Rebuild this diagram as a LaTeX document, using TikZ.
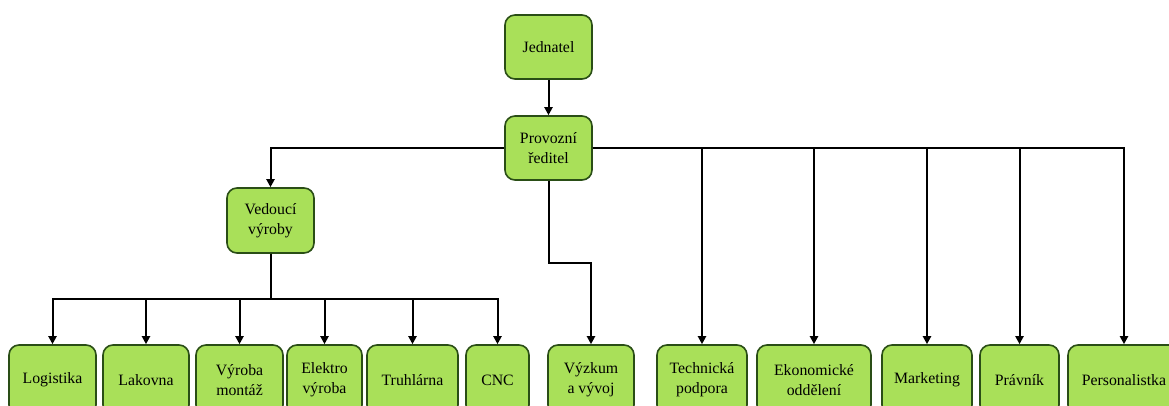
\documentclass[tikz,border=0pt]{standalone}
\usepackage{fontspec}
\setmainfont{Liberation Serif}
\usetikzlibrary{arrows.meta}
\definecolor{boxfill}{RGB}{169,224,89}
\definecolor{boxline}{RGB}{42,78,22}
\begin{document}
\begin{tikzpicture}[x=1pt,y=-1pt,
  unit/.style={draw=boxline, fill=boxfill, line width=1.6pt, rounded corners=10pt,
    align=center, inner sep=0pt, font=\fontsize{15.8}{20}\selectfont},
  link/.style={line width=2pt, black},
  arr/.style={link, -{Triangle[length=8pt,width=8pt]}}]
\useasboundingbox (0,0) rectangle (1169,406);
\clip (0,0) rectangle (1169,406);
% top of the hierarchy
\node[unit, minimum width=87pt, minimum height=64pt] (jed) at (548.5,47) {Jednatel};
\node[unit, minimum width=87pt, minimum height=64pt] (prov) at (548.5,148) {Provozní\\ředitel};
\node[unit, minimum width=87pt, minimum height=65pt] (ved) at (270.5,220.5) {Vedoucí\\výroby};
% bottom row
\node[unit, minimum width=87pt, minimum height=70pt] (log) at (52.5,380) {Logistika};
\node[unit, minimum width=86pt, minimum height=70pt] (lak) at (146,380) {Lakovna};
\node[unit, minimum width=87pt, minimum height=70pt] (mon) at (239.5,380) {Výroba\\montáž};
\node[unit, minimum width=75pt, minimum height=70pt] (ele) at (324.5,380) {Elektro\\výroba};
\node[unit, minimum width=91pt, minimum height=70pt] (tru) at (412.5,380) {Truhlárna};
\node[unit, minimum width=63pt, minimum height=70pt] (cnc) at (497.5,380) {CNC};
\node[unit, minimum width=86pt, minimum height=70pt] (vyz) at (591,380) {Výzkum\\a vývoj};
\node[unit, minimum width=90pt, minimum height=70pt] (tech) at (702,380) {Technická\\podpora};
\node[unit, minimum width=114pt, minimum height=70pt] (eko) at (814,380) {Ekonomické\\oddělení};
\node[unit, minimum width=90pt, minimum height=70pt] (mar) at (927,380) {Marketing};
\node[unit, minimum width=79pt, minimum height=70pt] (pra) at (1019.5,380) {Právník};
\node[unit, minimum width=112pt, minimum height=70pt] (per) at (1124,380) {Personalistka};
% connectors
\draw[arr] (jed.south) -- (prov.north);
\draw[arr] (prov.west) -| (ved.north);
\foreach \n in {tech,eko,mar,pra,per} \draw[arr] (prov.east) -| (\n.north);
\coordinate (vstep) at (548.5,263);
\draw[arr] (prov.south) -- (vstep) -| (vyz.north);
\coordinate (vbus) at (270.5,299);
\foreach \n in {log,lak,mon,ele,tru,cnc} \draw[arr] (ved.south) -- (vbus) -| (\n.north);
\end{tikzpicture}
\end{document}
